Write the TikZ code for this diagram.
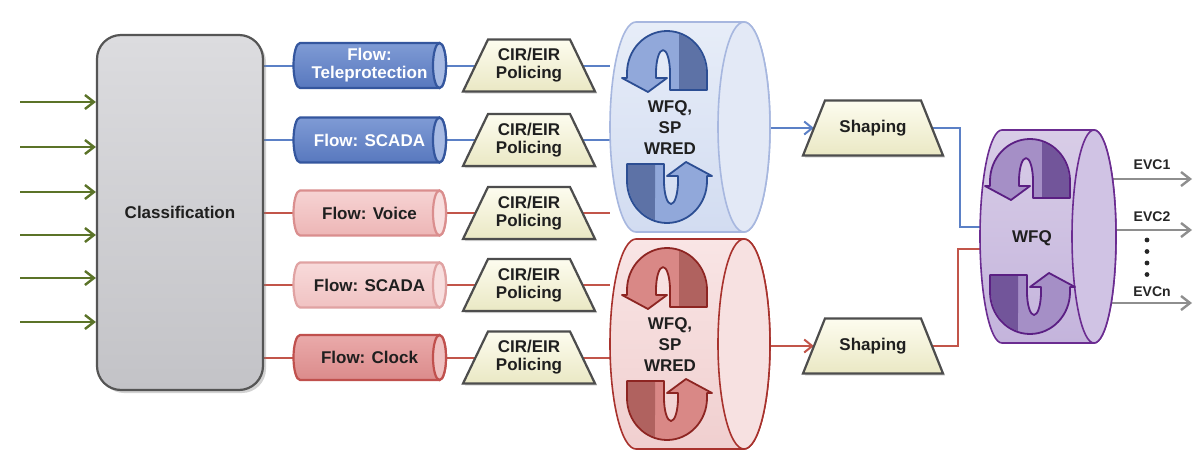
\documentclass[tikz,border=0pt]{standalone}
\usepackage{fontspec}
\setmainfont{Liberation Sans}
\usetikzlibrary{arrows.meta,shadows}

% wires
\definecolor{wireblue}{HTML}{5B80C6}
\definecolor{wirered}{HTML}{C2554A}
\definecolor{wiregreen}{HTML}{5B7328}
\definecolor{wiregray}{HTML}{8E8E8E}
% classification block
\definecolor{clstop}{HTML}{DCDCDF}
\definecolor{clsbot}{HTML}{C3C3C7}
\definecolor{clsedge}{HTML}{555555}
% flow pipes
\definecolor{fbtop}{HTML}{7F9BD5}
\definecolor{fbbot}{HTML}{5878BE}
\definecolor{fbedge}{HTML}{34569E}
\definecolor{fbface}{HTML}{A8BBE4}
\definecolor{fvtop}{HTML}{F6D3D3}
\definecolor{fvbot}{HTML}{EDB6B6}
\definecolor{fvedge}{HTML}{DA8E8E}
\definecolor{fvface}{HTML}{F8DEDE}
\definecolor{fstop}{HTML}{F8DADA}
\definecolor{fsbot}{HTML}{F0C2C2}
\definecolor{fsedge}{HTML}{E0A2A2}
\definecolor{fctop}{HTML}{EAAAAA}
\definecolor{fcbot}{HTML}{DB8B8B}
\definecolor{fcedge}{HTML}{C0504D}
\definecolor{fcface}{HTML}{EFC0C0}
% policing / shaping blocks
\definecolor{trtop}{HTML}{FDFCEF}
\definecolor{trbot}{HTML}{EAE8C4}
\definecolor{tredge}{HTML}{4D4D4D}
% queue drums
\definecolor{qBtop}{HTML}{E7EDF8}
\definecolor{qBbot}{HTML}{D2DCF1}
\definecolor{qBface}{HTML}{E3E9F6}
\definecolor{qBedge}{HTML}{A7B7DF}
\definecolor{qRtop}{HTML}{F9E5E5}
\definecolor{qRbot}{HTML}{F0CFCF}
\definecolor{qRface}{HTML}{F7E1E1}
\definecolor{qRedge}{HTML}{A8322D}
\definecolor{qPtop}{HTML}{D8CDE7}
\definecolor{qPbot}{HTML}{C4B4DC}
\definecolor{qPface}{HTML}{D0C3E4}
\definecolor{qPedge}{HTML}{6B2C91}
% rotating arrows
\definecolor{aBlight}{HTML}{91A8DA}
\definecolor{aBdark}{HTML}{5D72A6}
\definecolor{aBedge}{HTML}{2C4E93}
\definecolor{aRlight}{HTML}{D98886}
\definecolor{aRdark}{HTML}{B0625F}
\definecolor{aRedge}{HTML}{8D2522}
\definecolor{aPlight}{HTML}{A58FC6}
\definecolor{aPdark}{HTML}{72559A}
\definecolor{aPedge}{HTML}{5B1F83}

\pgfdeclarelayer{canvas}
\pgfdeclarelayer{wires}
\pgfsetlayers{canvas,wires,main}

% outline of the half-turn arrow, local axes pointing right and up
\def\qarrowpath{(40,-17) -- (40,0) arc[start angle=0,end angle=180,x radius=40,y radius=42]
  -- (-40,-5) -- (-45,-5) -- (-19,-19) -- (0,-5) -- (-11,-5) -- (-11,0)
  arc[start angle=180,end angle=0,x radius=7,y radius=23] -- (3,-17) -- cycle}

% horizontal drum: left cap centre x, face centre x, centre y, x radius, y radius, body style, face style
\newcommand{\hcyl}[7]{%
  \path[#6] (#2,#3-#5) -- (#1,#3-#5)
    arc[start angle=270,end angle=90,x radius=#4,y radius=#5]
    -- (#2,#3+#5)
    arc[start angle=90,end angle=-90,x radius=#4,y radius=#5] -- cycle;
  \path[#7] (#2,#3) ellipse[x radius=#4,y radius=#5];
}

% trapezoid block: name, centre x, centre y, bottom width, top width, height, text
\newcommand{\trapblock}[7]{%
  \path[trapfill] (#2-#4/2,#3+#6/2) -- (#2-#5/2,#3-#6/2) -- (#2+#5/2,#3-#6/2) -- (#2+#4/2,#3+#6/2) -- cycle;
  \node[txt, minimum width={(#4+#5)/2}, minimum height=#6] (#1) at (#2,#3) {#7};
}

% flow pipe: name, centre y, body style, face style, text colour, text
\newcommand{\flowpipe}[6]{%
  \hcyl{300}{439.5}{#2}{6.5}{22.5}{#3}{#4}
  \node[txt, text=#5, minimum width=153, minimum height=45] (#1) at (369.5,#2) {#6};
}

\tikzset{
  txt/.style={font=\fontsize{17}{18}\selectfont\bfseries, align=center, inner sep=0pt, text=black!88},
  qtxt/.style={font=\fontsize{17}{21}\selectfont\bfseries, align=center, inner sep=0pt, text=black!88},
  evc/.style={font=\fontsize{14}{15}\selectfont\bfseries, inner sep=0pt, text=black!85},
  holder/.style={rectangle, inner sep=0pt, outer sep=0pt},
  classbox/.style={txt, rectangle, rounded corners=24pt, minimum width=166, minimum height=355,
    draw=clsedge, line width=2.2pt, top color=clstop, bottom color=clsbot,
    drop shadow={shadow xshift=3pt, shadow yshift=-3pt, opacity=0.35}},
  trapfill/.style={draw=tredge, line width=2.2pt, line join=miter, top color=trtop, bottom color=trbot,
    drop shadow={shadow xshift=2pt, shadow yshift=-2pt, opacity=0.3}},
  pipeB/.style={draw=fbedge, line width=2.2pt, top color=fbtop, bottom color=fbbot},
  faceB/.style={draw=fbedge, line width=2.2pt, fill=fbface},
  pipeV/.style={draw=fvedge, line width=2.2pt, top color=fvtop, bottom color=fvbot},
  faceV/.style={draw=fvedge, line width=2.2pt, fill=fvface},
  pipeS/.style={draw=fsedge, line width=2.2pt, top color=fstop, bottom color=fsbot},
  faceS/.style={draw=fsedge, line width=2.2pt, fill=fvface},
  pipeC/.style={draw=fcedge, line width=2.2pt, top color=fctop, bottom color=fcbot},
  faceC/.style={draw=fcedge, line width=2.2pt, fill=fcface},
  drumB/.style={draw=qBedge, line width=1.6pt, top color=qBtop, bottom color=qBbot},
  drumBface/.style={draw=qBedge, line width=1.6pt, fill=qBface},
  drumR/.style={draw=qRedge, line width=1.6pt, top color=qRtop, bottom color=qRbot},
  drumRface/.style={draw=qRedge, line width=1.6pt, fill=qRface},
  drumP/.style={draw=qPedge, line width=1.6pt, top color=qPtop, bottom color=qPbot},
  drumPface/.style={draw=qPedge, line width=1.6pt, fill=qPface},
  wblue/.style={draw=wireblue, line width=2pt},
  wred/.style={draw=wirered, line width=2pt},
  wgreen/.style={draw=wiregreen, line width=2.4pt, -{Straight Barb[length=9pt,width=14pt]}},
  wgray/.style={draw=wiregray, line width=2.4pt, -{Straight Barb[length=9pt,width=14pt]}},
  openhead/.style={-{Straight Barb[length=8pt,width=13pt]}},
  pics/qarrow/.style n args={3}{code={
    \begin{scope}[yscale=-1, line join=round]
      \path[fill=#1] \qarrowpath;
      \path[fill=#2] (39,-16) -- (39,0) arc[start angle=0,end angle=72,x radius=39,y radius=41]
        .. controls (12,28) and (12,12) .. (12,-16) -- cycle;
      \path[draw=#3, line width=1.8pt] \qarrowpath;
    \end{scope}
  }},
}

\begin{document}
\begin{tikzpicture}[x=1pt,y=-1pt]
\begin{pgfonlayer}{canvas}
  \fill[white] (0,0) rectangle (1195,464);
\end{pgfonlayer}
\useasboundingbox (0,0) rectangle (1195,464);

% classifier and its inputs
\node[classbox] (cls) at (180,212.5) {Classification};
\foreach \y [count=\i] in {102,147,192,235,278,322}
  \coordinate (in\i) at (20,\y);

% flow pipes
\flowpipe{f1}{65.5}{pipeB}{faceB}{white}{Flow:\\Teleprotection}
\flowpipe{f2}{140}{pipeB}{faceB}{white}{Flow: SCADA}
\flowpipe{f3}{213}{pipeV}{faceV}{black!88}{Flow: Voice}
\flowpipe{f4}{285}{pipeS}{faceS}{black!88}{Flow: SCADA}
\flowpipe{f5}{357.5}{pipeC}{faceC}{black!88}{Flow: Clock}

% policers
\trapblock{p1}{529}{65.5}{132}{82}{52}{CIR/EIR\\Policing}
\trapblock{p2}{529}{140}{132}{82}{52}{CIR/EIR\\Policing}
\trapblock{p3}{529}{213}{132}{82}{52}{CIR/EIR\\Policing}
\trapblock{p4}{529}{285}{132}{82}{52}{CIR/EIR\\Policing}
\trapblock{p5}{529}{357.5}{132}{82}{52}{CIR/EIR\\Policing}

% first-stage schedulers
\hcyl{636}{744}{127}{26}{105}{drumB}{drumBface}
\node[holder, minimum width=160, minimum height=210] (qb) at (690,127) {};
\pic at (667,73) {qarrow={aBlight}{aBdark}{aBedge}};
\pic[rotate=180] at (667,181) {qarrow={aBlight}{aBdark}{aBedge}};
\node[qtxt] (tb) at (670,128) {WFQ,\\SP\\WRED};

\hcyl{636}{744}{344}{26}{105}{drumR}{drumRface}
\node[holder, minimum width=160, minimum height=210] (qr) at (690,344) {};
\pic at (667,290) {qarrow={aRlight}{aRdark}{aRedge}};
\pic[rotate=180] at (667,398) {qarrow={aRlight}{aRdark}{aRedge}};
\node[qtxt] (tr) at (670,345) {WFQ,\\SP\\WRED};

% shapers
\trapblock{s1}{873}{128}{140}{96}{55}{Shaping}
\trapblock{s2}{873}{346}{140}{96}{55}{Shaping}
\coordinate (j1) at (960,227);
\coordinate (j2) at (958,249);

% output scheduler
\hcyl{1002}{1094}{236.5}{22}{106.5}{drumP}{drumPface}
\node[holder, minimum width=136, minimum height=213] (wfq) at (1048,236.5) {};
\pic at (1030,181) {qarrow={aPlight}{aPdark}{aPedge}};
\pic[rotate=180] at (1030,292) {qarrow={aPlight}{aPdark}{aPedge}};
\node[txt] (tw) at (1032,238) {WFQ};

% EVC outputs
\coordinate (e1) at (1192,179);
\coordinate (e2) at (1192,230);
\coordinate (e3) at (1192,303);
\node[evc] (l1) at (1152,165) {EVC1};
\node[evc] (l2) at (1152,217) {EVC2};
\node[evc] (l3) at (1152,292) {EVCn};
\foreach \y in {240,251.5,263,274.5}
  \fill[black!85] (1147,\y) circle[radius=2.4];

% connectors
\begin{pgfonlayer}{wires}
  \foreach \i in {1,...,6}
    \draw[wgreen] (in\i) -- (in\i -| cls.west);
  \draw[wblue] (cls.east |- f1.west) -- (f1.west);
  \draw[wblue] (cls.east |- f2.west) -- (f2.west);
  \draw[wred]  (cls.east |- f3.west) -- (f3.west);
  \draw[wred]  (cls.east |- f4.west) -- (f4.west);
  \draw[wred]  (cls.east |- f5.west) -- (f5.west);
  \draw[wblue] (f1.east) -- (p1.west);
  \draw[wblue] (f2.east) -- (p2.west);
  \draw[wred]  (f3.east) -- (p3.west);
  \draw[wred]  (f4.east) -- (p4.west);
  \draw[wred]  (f5.east) -- (p5.west);
  \draw[wblue] (p1.east) -- (p1.east -| qb.west);
  \draw[wblue] (p2.east) -- (p2.east -| qb.west);
  \draw[wred]  (p3.east) -- (p3.east -| qb.west);
  \draw[wred]  (p4.east) -- (p4.east -| qr.west);
  \draw[wred]  (p5.east) -- (p5.east -| qr.west);
  \draw[wblue, openhead] (qb.east |- s1.west) -- (s1.west);
  \draw[wred, openhead]  (qr.east |- s2.west) -- (s2.west);
  \draw[wblue] (s1.east) -| (j1) -- (j1 -| wfq.west);
  \draw[wred]  (s2.east) -| (j2) -- (j2 -| wfq.west);
  \draw[wgray] (wfq.center |- e1) -- (e1);
  \draw[wgray] (wfq.center |- e2) -- (e2);
  \draw[wgray] (wfq.center |- e3) -- (e3);
\end{pgfonlayer}
\end{tikzpicture}
\end{document}
